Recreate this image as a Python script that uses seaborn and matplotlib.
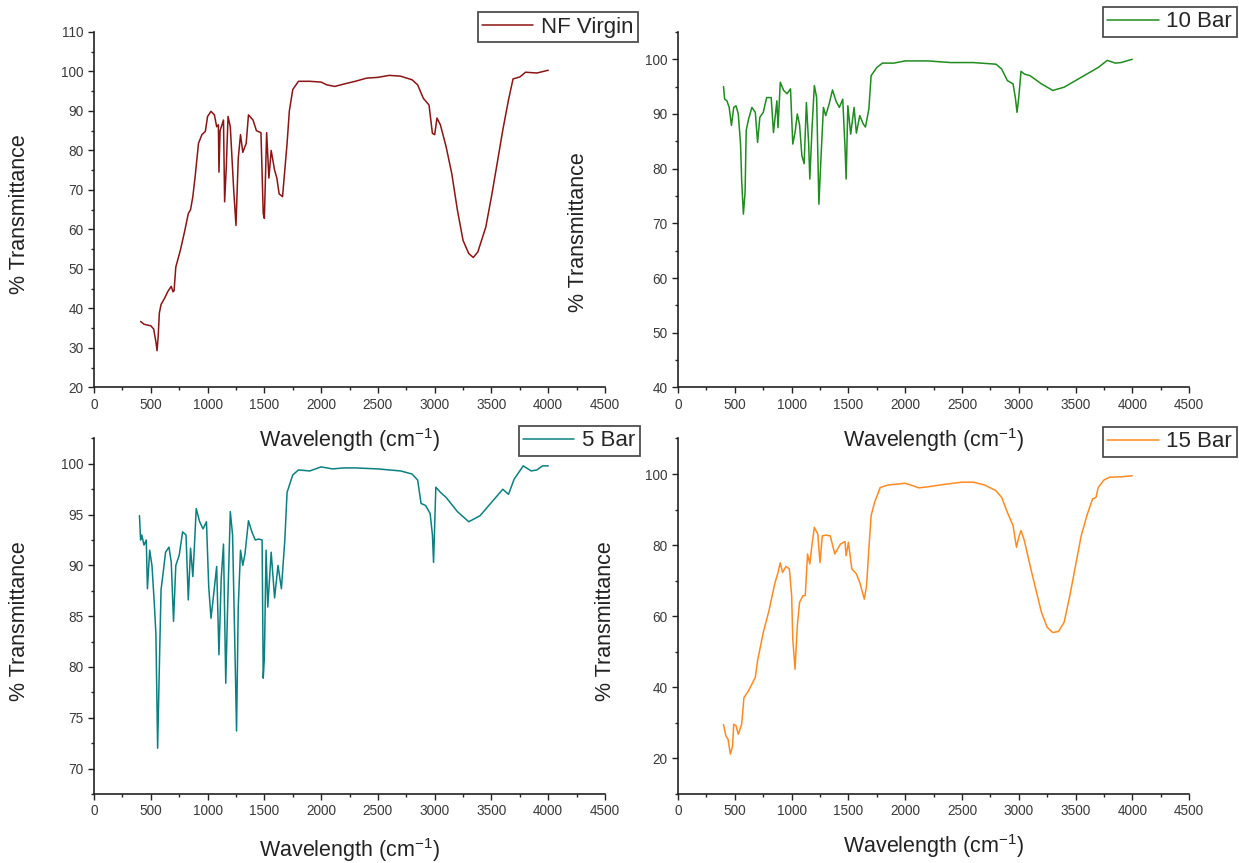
import numpy as np
import pandas as pd
import matplotlib
matplotlib.use("Agg")
import matplotlib.pyplot as plt
from matplotlib.ticker import MultipleLocator
import seaborn as sns

# FTIR spectra (wavenumber, % transmittance)
virgin_x = [410, 440, 470, 500, 525, 545, 555, 565, 575, 590, 620, 650, 680, 695, 705, 720, 760, 800,
            830, 850, 870, 890, 920, 950, 980, 1000, 1030, 1060, 1080, 1095, 1100, 1110, 1140, 1150,
            1165, 1180, 1200, 1230, 1250, 1270, 1290, 1310, 1340, 1360, 1400, 1430, 1470, 1490, 1500,
            1520, 1540, 1560, 1590, 1610, 1630, 1660, 1680, 1700, 1720, 1750, 1800, 1900, 2000, 2050,
            2120, 2200, 2300, 2400, 2500, 2600, 2700, 2800, 2850, 2900, 2950, 2980, 3000, 3020, 3050,
            3100, 3150, 3200, 3250, 3300, 3340, 3380, 3450, 3500, 3550, 3600, 3650, 3690, 3750, 3800,
            3900, 4000]
virgin_y = [36.7, 36.0, 35.8, 35.6, 34.8, 31.5, 29.3, 33.0, 38.8, 41.0, 42.5, 44.3, 45.6, 44.2, 44.5,
            50.5, 54.7, 59.8, 64.0, 65.0, 68.3, 73.3, 81.8, 84.0, 84.8, 88.6, 89.9, 89.0, 86.0, 86.5,
            74.5, 85.0, 87.7, 67.0, 76.0, 88.6, 86.0, 70.0, 61.0, 78.0, 84.0, 79.5, 81.8, 89.0, 87.7,
            85.0, 84.5, 64.0, 62.8, 84.5, 73.0, 80.0, 75.0, 73.0, 69.0, 68.3, 75.0, 81.8, 90.0, 95.4,
            97.5, 97.5, 97.3, 96.6, 96.2, 96.8, 97.5, 98.3, 98.5, 99.0, 98.8, 97.9, 96.6, 93.2, 91.5,
            84.3, 84.0, 88.2, 86.5, 81.0, 74.2, 64.9, 57.2, 53.9, 52.9, 54.3, 60.6, 68.3, 76.7, 85.2,
            92.8, 98.1, 98.6, 99.8, 99.6, 100.3]

bar10_x = [400, 410, 430, 450, 470, 490, 510, 530, 550, 560, 575, 590, 600, 620, 650, 680, 700, 720,
           750, 780, 820, 840, 870, 880, 900, 930, 960, 990, 1010, 1030, 1050, 1070, 1090, 1110, 1130,
           1150, 1160, 1180, 1200, 1220, 1240, 1260, 1280, 1300, 1330, 1360, 1390, 1420, 1450, 1470,
           1480, 1495, 1520, 1550, 1570, 1600, 1630, 1650, 1680, 1700, 1750, 1800, 1900, 2000, 2200,
           2400, 2600, 2800, 2850, 2900, 2950, 2970, 2985, 3000, 3020, 3050, 3100, 3200, 3300, 3400,
           3500, 3600, 3700, 3780, 3850, 3900, 4000]
bar10_y = [95.0, 92.7, 92.4, 91.2, 87.9, 91.2, 91.5, 90.0, 84.5, 77.8, 71.7, 75.7, 87.0, 89.0, 91.2,
           90.3, 84.8, 89.4, 90.3, 93.0, 93.0, 86.6, 92.4, 87.5, 95.8, 94.3, 93.7, 94.6, 84.5, 86.6,
           90.0, 88.0, 82.4, 80.9, 92.1, 84.5, 78.1, 87.6, 95.2, 93.0, 73.5, 82.7, 91.2, 89.7, 91.8,
           94.4, 92.4, 91.2, 92.7, 83.9, 78.1, 91.5, 86.3, 91.2, 86.5, 89.7, 88.2, 87.6, 90.9, 97.0,
           98.5, 99.3, 99.3, 99.7, 99.7, 99.4, 99.4, 99.1, 98.2, 96.1, 95.5, 93.0, 90.3, 93.0, 97.8,
           97.3, 97.0, 95.5, 94.3, 94.9, 96.1, 97.3, 98.5, 99.8, 99.3, 99.4, 100.0]

bar5_x = [400, 410, 420, 440, 460, 470, 490, 510, 530, 545, 560, 575, 590, 610, 630, 660, 680, 700,
          720, 750, 780, 810, 830, 850, 870, 880, 900, 930, 960, 990, 1010, 1030, 1050, 1080, 1100,
          1120, 1140, 1160, 1175, 1200, 1220, 1240, 1255, 1270, 1290, 1310, 1330, 1360, 1390, 1420,
          1450, 1480, 1490, 1500, 1515, 1530, 1560, 1590, 1620, 1650, 1680, 1700, 1750, 1800, 1900,
          2000, 2100, 2200, 2300, 2500, 2700, 2800, 2850, 2880, 2920, 2960, 2980, 2990, 3010, 3050,
          3100, 3200, 3300, 3400, 3500, 3600, 3650, 3700, 3780, 3850, 3900, 3950, 4000]
bar5_y = [94.9, 92.5, 93.0, 92.0, 92.5, 87.7, 91.5, 90.0, 86.4, 83.2, 72.0, 79.9, 87.6, 89.4, 91.3,
          91.8, 90.3, 84.5, 90.0, 91.0, 93.3, 93.0, 86.6, 91.7, 88.9, 91.0, 95.6, 94.3, 93.6, 94.3,
          87.9, 84.8, 86.8, 89.9, 81.2, 88.7, 92.1, 78.4, 85.3, 95.3, 93.0, 82.2, 73.7, 85.9, 91.5,
          90.0, 91.2, 94.4, 93.3, 92.5, 92.6, 92.5, 78.9, 80.9, 91.5, 85.9, 91.3, 86.8, 90.0, 87.7,
          92.5, 97.2, 98.9, 99.4, 99.3, 99.7, 99.5, 99.6, 99.6, 99.5, 99.3, 99.0, 98.4, 96.1, 95.9,
          95.1, 93.0, 90.3, 97.7, 97.2, 96.7, 95.3, 94.3, 94.9, 96.2, 97.5, 97.0, 98.5, 99.8, 99.3,
          99.4, 99.8, 99.8]

bar15_x = [400, 420, 440, 460, 480, 490, 510, 530, 560, 580, 620, 680, 700, 750, 800, 850, 880, 900,
           920, 950, 980, 1000, 1010, 1030, 1050, 1070, 1100, 1120, 1140, 1160, 1180, 1200, 1230,
           1250, 1270, 1300, 1340, 1380, 1430, 1470, 1480, 1500, 1530, 1570, 1600, 1640, 1660, 1680,
           1700, 1730, 1780, 1850, 2000, 2050, 2120, 2200, 2350, 2500, 2600, 2700, 2800, 2850, 2900,
           2950, 2980, 3000, 3020, 3050, 3100, 3150, 3200, 3250, 3300, 3350, 3400, 3450, 3500, 3550,
           3600, 3650, 3680, 3700, 3750, 3800, 3900, 4000]
bar15_y = [29.5, 26.4, 25.4, 21.2, 23.5, 29.6, 29.2, 26.8, 29.6, 37.1, 39.0, 42.8, 47.5, 55.4, 61.5,
           69.0, 72.3, 75.0, 72.3, 74.0, 73.3, 65.8, 53.6, 45.1, 57.3, 63.9, 65.8, 65.8, 77.5, 74.7,
           80.3, 85.0, 83.1, 75.1, 82.6, 82.8, 82.6, 77.5, 80.3, 81.0, 77.0, 80.8, 73.3, 71.9, 69.5,
           64.8, 68.6, 78.9, 88.3, 92.0, 96.2, 96.9, 97.4, 96.9, 96.1, 96.4, 97.1, 97.7, 97.7, 96.9,
           95.3, 93.4, 89.2, 85.5, 79.4, 82.2, 84.1, 81.2, 74.2, 67.6, 61.1, 56.9, 55.4, 55.7, 58.3,
           65.8, 74.2, 82.6, 88.3, 93.0, 93.4, 96.2, 98.3, 99.1, 99.2, 99.5]

names = ["NF Virgin", "10 Bar", "5 Bar", "15 Bar"]
colors = ["#8B1414", "#1E8C1E", "#0A8080", "#FF8A1F"]
ylims = [(20, 110), (40, 105), (67.5, 102.5), (10, 110)]
ysteps = [10, 10, 5, 20]
series = [(virgin_x, virgin_y), (bar10_x, bar10_y), (bar5_x, bar5_y), (bar15_x, bar15_y)]

sns.set_style("ticks")
plt.rcParams["font.family"] = ["Liberation Sans", "DejaVu Sans"]
plt.rcParams["mathtext.default"] = "regular"

fig, axes = plt.subplots(2, 2, figsize=(12.39, 8.63), dpi=100)
fig.subplots_adjust(left=0.0759, right=0.9597, bottom=0.08, top=0.963, wspace=0.143, hspace=0.1435)

# legend anchors (upper right corner of each box, figure fraction)
leg_anchor = [(0.515, 0.986), (0.998, 0.992), (0.5165, 0.5064), (0.998, 0.5052)]
ylab_pos = [(-0.145, 0.487), (-0.194, 0.437), (-0.145, 0.486), (-0.143, 0.486)]
xlab_y = [-0.149, -0.149, -0.157, -0.146]

for i, ax in enumerate(axes.flat):
    xs, ys = series[i]
    df = pd.DataFrame({"wave": xs, "T": ys})
    sns.lineplot(data=df, x="wave", y="T", ax=ax, color=colors[i], lw=1.1,
                 estimator=None, sort=False, label=names[i])
    ax.set_facecolor("none")
    ax.set_xlim(0, 4500)
    ax.set_ylim(*ylims[i])
    ax.xaxis.set_major_locator(MultipleLocator(500))
    ax.xaxis.set_minor_locator(MultipleLocator(250))
    ax.yaxis.set_major_locator(MultipleLocator(ysteps[i]))
    ax.yaxis.set_minor_locator(MultipleLocator(ysteps[i] / 2))
    ax.tick_params(which="major", direction="out", length=4.5, width=1.0, color="#222222",
                   labelsize=9.8, labelcolor="#3a3a3a", pad=3)
    ax.tick_params(which="minor", direction="out", length=2.5, width=1.0, color="#222222")
    sns.despine(ax=ax)
    for s in ["left", "bottom"]:
        ax.spines[s].set_linewidth(1.2)
        ax.spines[s].set_color("#222222")
    ax.set_xlabel(r"Wavelength (cm$^{-1}$)", fontsize=15.5, color="#222222")
    ax.set_ylabel("% Transmittance", fontsize=15.5, color="#222222", va="center")
    ax.xaxis.set_label_coords(0.5, xlab_y[i])
    ax.yaxis.set_label_coords(*ylab_pos[i])
    ax.xaxis.label.set_va("center")
    leg = ax.legend(loc="upper right", bbox_to_anchor=leg_anchor[i], bbox_transform=fig.transFigure,
                    borderaxespad=0, fancybox=False, frameon=True, fontsize=16, handlelength=2.3,
                    handletextpad=0.35, borderpad=0.2)
    leg.get_frame().set_edgecolor("#222222")
    leg.get_frame().set_linewidth(1.3)

fig.savefig("out.png", dpi=100)
